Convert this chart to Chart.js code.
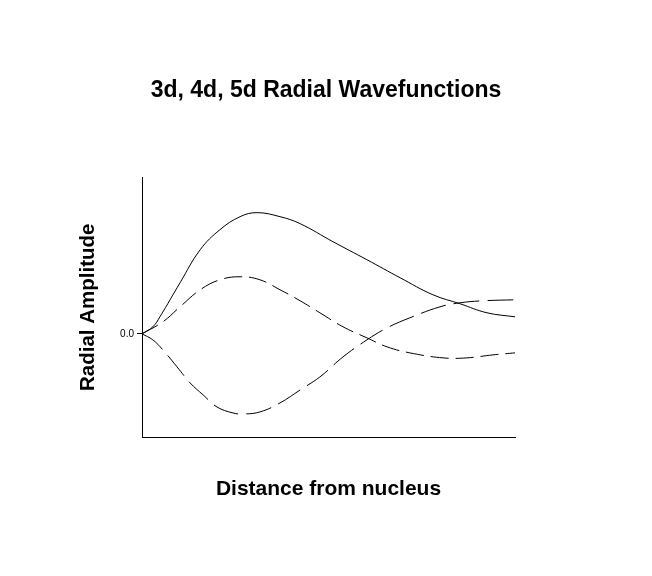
<!DOCTYPE html>
<html>
<head>
<meta charset="utf-8">
<script src="https://cdn.jsdelivr.net/npm/chart.js@4.4.0/dist/chart.umd.min.js"></script>
<style>
  body { margin: 0; background: #fff; }
  #wrap { width: 652px; height: 576px; }
</style>
</head>
<body>
<div id="wrap"><canvas id="chart" width="652" height="576"></canvas></div>
<script>
// Data (distance in arbitrary units 0..10, amplitude in arbitrary units)
const DIST_3D = [0, 0.29, 0.48, 1.02, 1.56, 2.09, 2.63, 3.08, 3.70, 4.24, 5.12, 6.03, 6.92, 7.80, 8.53, 9.25, 10];
const AMP_3D  = [0, 0.07, 0.17, 0.51, 0.84, 1.04, 1.17, 1.21, 1.17, 1.10, 0.92, 0.74, 0.56, 0.39, 0.30, 0.21, 0.17];

const DIST_4D = [0, 0.56, 1.02, 1.56, 2.09, 2.63, 3.16, 3.70, 4.24, 4.77, 5.39, 6.03, 6.57, 7.18, 8.07, 8.71, 9.41, 10];
const AMP_4D  = [0, 0.12, 0.27, 0.44, 0.54, 0.57, 0.54, 0.44, 0.33, 0.21, 0.07, -0.04, -0.13, -0.19, -0.24, -0.24, -0.21, -0.19];

const DIST_5D = [0, 0.29, 0.56, 0.94, 1.29, 1.64, 2.01, 2.44, 2.71, 3.16, 3.70, 4.24, 4.77, 5.39, 6.03, 6.57, 7.18, 7.99, 8.53, 9.14, 10];
const AMP_5D  = [0, -0.06, -0.16, -0.33, -0.49, -0.61, -0.73, -0.79, -0.80, -0.78, -0.69, -0.56, -0.43, -0.23, -0.06, 0.06, 0.16, 0.27, 0.31, 0.33, 0.34];

const Y_TICKS = [0];
const FONT = 'Liberation Sans, Arial, sans-serif';

function toPoints(xs, ys) {
    return xs.map((x, i) => ({ x: x, y: ys[i] }));
}

function lineSet(label, xs, ys, dash) {
    return {
        label: label,
        data: toPoints(xs, ys),
        borderColor: '#000',
        borderWidth: 1,
        borderDash: dash,
        pointRadius: 0,
        fill: false,
        tension: 0.4
    };
}

const ctx = document.getElementById('chart').getContext('2d');
new Chart(ctx, {
    type: 'line',
    data: {
        datasets: [
            lineSet('3d', DIST_3D, AMP_3D, []),
            lineSet('4d', DIST_4D, AMP_4D, [18, 7]),
            lineSet('5d', DIST_5D, AMP_5D, [26, 8])
        ]
    },
    options: {
        responsive: false,
        animation: false,
        layout: { padding: 0 },
        plugins: {
            legend: { display: false },
            tooltip: { enabled: false },
            title: {
                display: true,
                text: '3d, 4d, 5d Radial Wavefunctions',
                color: '#000',
                font: { family: FONT, size: 23, weight: 'bold' },
                padding: { top: 77, bottom: 73 }
            }
        },
        scales: {
            x: {
                type: 'linear',
                min: 0,
                max: 10,
                grid: { display: false },
                ticks: { display: false },
                border: { display: true, color: '#000', width: 1 },
                title: {
                    display: true,
                    text: 'Distance from nucleus',
                    color: '#000',
                    font: { family: FONT, size: 21, weight: 'bold' },
                    padding: { top: 0, bottom: 74 }
                },
                afterFit: s => { s.height = 139; }
            },
            y: {
                type: 'linear',
                min: -1.03,
                max: 1.56,
                position: 'left',
                grid: { display: true, drawOnChartArea: false, drawTicks: true, tickLength: 5, color: '#000' },
                border: { display: true, color: '#000', width: 1 },
                ticks: {
                    color: '#000',
                    padding: 3,
                    font: { family: FONT, size: 10 },
                    callback: v => v.toFixed(1)
                },
                afterBuildTicks: s => { s.ticks = Y_TICKS.map(v => ({ value: v })); },
                title: {
                    display: true,
                    text: 'Radial Amplitude',
                    color: '#000',
                    font: { family: FONT, size: 20.5, weight: 'bold' },
                    padding: { top: 76.5, bottom: 0 }
                },
                afterFit: s => { s.width = 142; }
            },
            // empty right axis only reserves the white margin on the right
            yRight: {
                position: 'right',
                grid: { display: false },
                ticks: { display: false },
                border: { display: false },
                afterFit: s => { s.width = 137; }
            }
        }
    }
});
</script>
</body>
</html>
